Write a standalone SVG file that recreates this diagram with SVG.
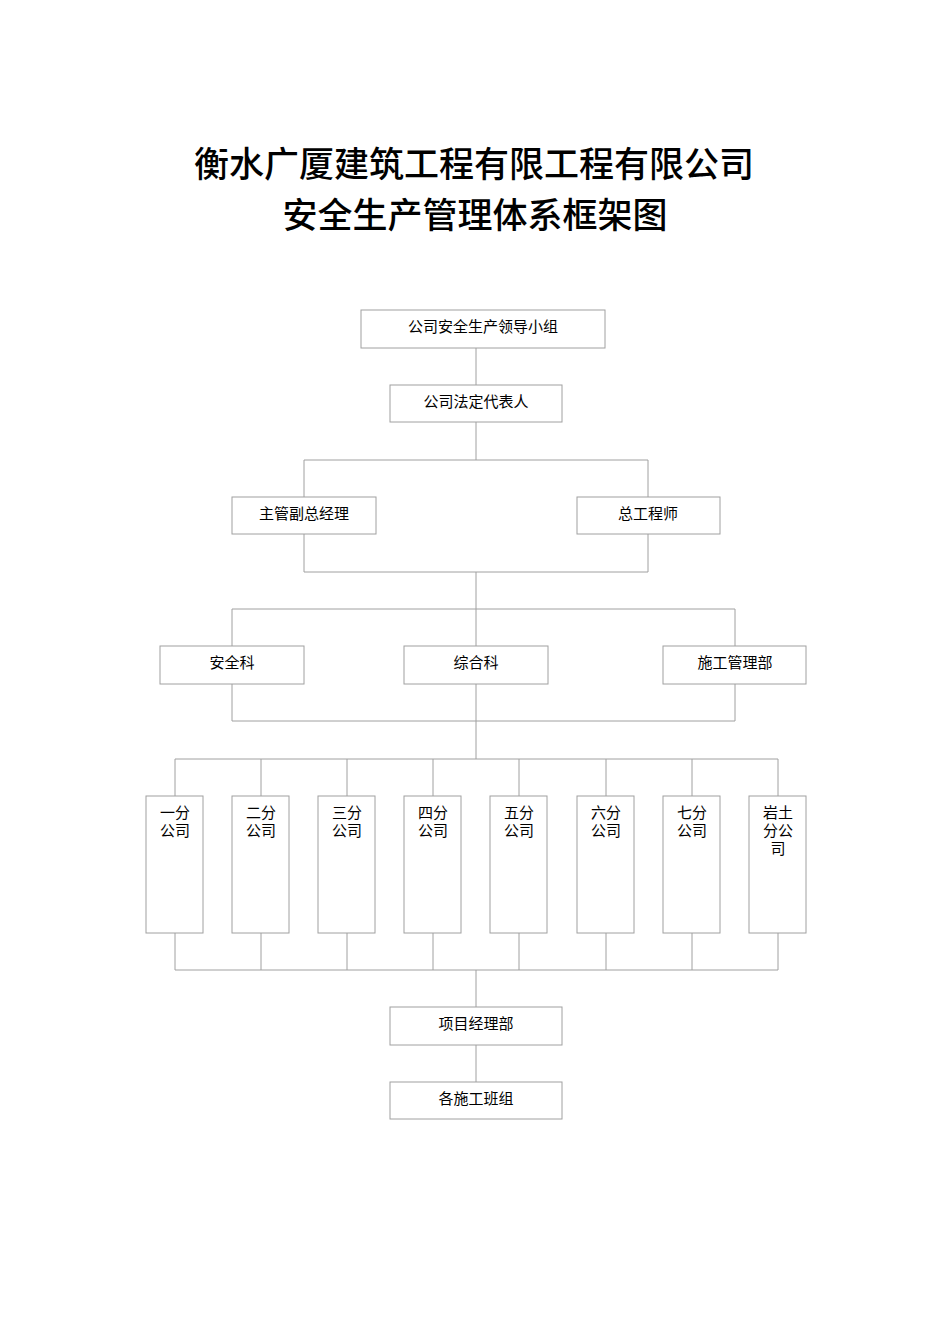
<svg xmlns="http://www.w3.org/2000/svg" width="950" height="1344" viewBox="0 0 950 1344">
<style>
.b{fill:#fff;stroke:#a0a0a0;stroke-width:1}
.l{stroke:#a0a0a0;stroke-width:1;fill:none}
.t{font-family:"Liberation Serif","Noto Sans CJK SC",serif;font-size:15px;fill:#000;text-anchor:middle}
.h{font-family:"Noto Sans CJK SC",sans-serif;font-size:35px;font-weight:500;fill:#000;text-anchor:middle}
</style>
<rect width="950" height="1344" fill="#fff"/>
<text class="h" x="474" y="177">衡水广厦建筑工程有限工程有限公司</text>
<text class="h" x="475" y="228">安全生产管理体系框架图</text>
<g id="connectors">
<path class="l" d="M476 348V385M476 422V460M304 460H648M304 460V497M648 460V497M304 534V572M648 534V572M304 572H648M476 572V609M232 609H735M232 609V646M476 609V646M735 609V646M232 684V721M476 684V721M735 684V721M232 721H735M476 721V759M175 759H778M175 759V796M261 759V796M347 759V796M433 759V796M519 759V796M606 759V796M692 759V796M778 759V796M175 933V970M261 933V970M347 933V970M433 933V970M519 933V970M606 933V970M692 933V970M778 933V970M175 970H778M476 970V1007M476 1045V1082"/>
</g>
<g id="n1"><rect class="b" x="361" y="310" width="244" height="38"/><text class="t" x="483" y="332">公司安全生产领导小组</text></g>
<g id="n2"><rect class="b" x="390" y="385" width="172" height="37"/><text class="t" x="476" y="407">公司法定代表人</text></g>
<g id="n3"><rect class="b" x="232" y="497" width="144" height="37"/><text class="t" x="304" y="519">主管副总经理</text></g>
<g id="n4"><rect class="b" x="577" y="497" width="143" height="37"/><text class="t" x="648" y="519">总工程师</text></g>
<g id="n5"><rect class="b" x="160" y="646" width="144" height="38"/><text class="t" x="232" y="668">安全科</text></g>
<g id="n6"><rect class="b" x="404" y="646" width="144" height="38"/><text class="t" x="476" y="668">综合科</text></g>
<g id="n7"><rect class="b" x="663" y="646" width="143" height="38"/><text class="t" x="735" y="668">施工管理部</text></g>
<g id="s1"><rect class="b" x="146" y="796" width="57" height="137"/><text class="t" x="175" y="818">一分</text><text class="t" x="175" y="836">公司</text></g>
<g id="s2"><rect class="b" x="232" y="796" width="57" height="137"/><text class="t" x="261" y="818">二分</text><text class="t" x="261" y="836">公司</text></g>
<g id="s3"><rect class="b" x="318" y="796" width="57" height="137"/><text class="t" x="347" y="818">三分</text><text class="t" x="347" y="836">公司</text></g>
<g id="s4"><rect class="b" x="404" y="796" width="57" height="137"/><text class="t" x="433" y="818">四分</text><text class="t" x="433" y="836">公司</text></g>
<g id="s5"><rect class="b" x="490" y="796" width="57" height="137"/><text class="t" x="519" y="818">五分</text><text class="t" x="519" y="836">公司</text></g>
<g id="s6"><rect class="b" x="577" y="796" width="57" height="137"/><text class="t" x="606" y="818">六分</text><text class="t" x="606" y="836">公司</text></g>
<g id="s7"><rect class="b" x="663" y="796" width="57" height="137"/><text class="t" x="692" y="818">七分</text><text class="t" x="692" y="836">公司</text></g>
<g id="s8"><rect class="b" x="749" y="796" width="57" height="137"/><text class="t" x="778" y="818">岩土</text><text class="t" x="778" y="836">分公</text><text class="t" x="778" y="854">司</text></g>
<g id="n8"><rect class="b" x="390" y="1007" width="172" height="38"/><text class="t" x="476" y="1029">项目经理部</text></g>
<g id="n9"><rect class="b" x="390" y="1082" width="172" height="37"/><text class="t" x="476" y="1104">各施工班组</text></g>
</svg>
